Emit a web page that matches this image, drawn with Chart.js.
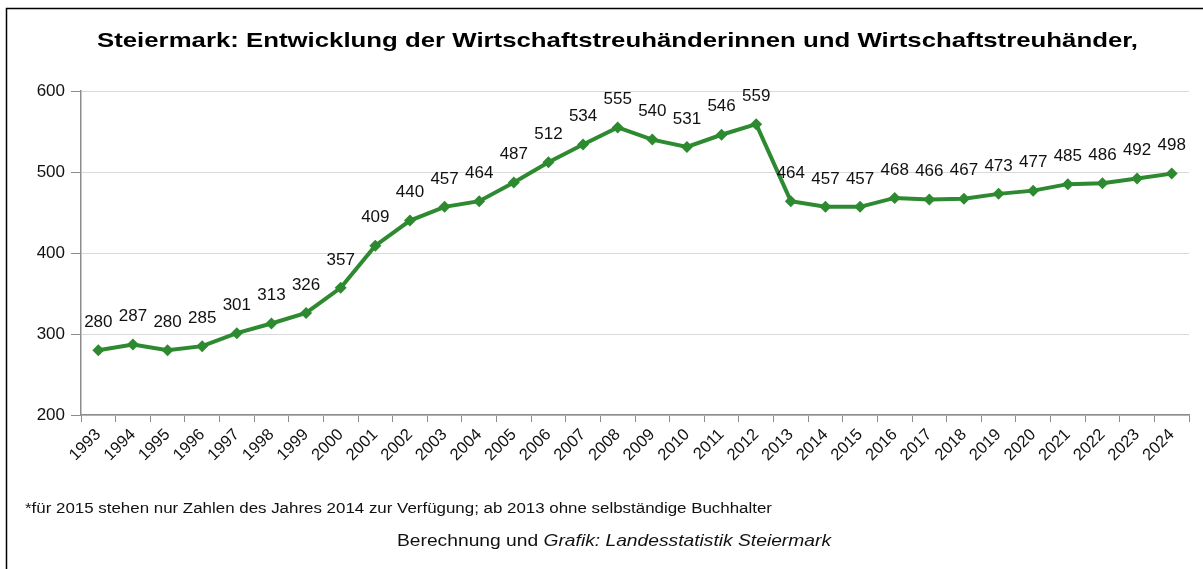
<!DOCTYPE html>
<html>
<head>
<meta charset="utf-8">
<script src="https://cdn.jsdelivr.net/npm/chart.js@4"></script>
<style>
  html, body { margin: 0; padding: 0; background: #fff; }
  canvas { display: block; }
</style>
</head>
<body>
<canvas id="myChart" width="1203" height="569"></canvas>
<script>
var jahre = ['1993', '1994', '1995', '1996', '1997', '1998', '1999', '2000', '2001', '2002',
    '2003', '2004', '2005', '2006', '2007', '2008', '2009', '2010', '2011', '2012',
    '2013', '2014', '2015', '2016', '2017', '2018', '2019', '2020', '2021', '2022',
    '2023', '2024'];
var anzahl = [280, 287, 280, 285, 301, 313, 326, 357, 409, 440,
    457, 464, 487, 512, 534, 555, 540, 531, 546, 559,
    464, 457, 457, 468, 466, 467, 473, 477, 485, 486,
    492, 498];
var yTicks = [200, 300, 400, 500, 600];

var titel = 'Steiermark: Entwicklung der Wirtschaftstreuhänderinnen und Wirtschaftstreuhänder,';
var fussnote = '*für 2015 stehen nur Zahlen des Jahres 2014 zur Verfügung; ab 2013 ohne selbständige Buchhalter';
var quelleNormal = 'Berechnung und ';
var quelleKursiv = 'Grafik: Landesstatistik Steiermark';

var schrift = '"Liberation Sans", Arial, sans-serif';

// text squeezed to a given width (narrow font look)
function schmalerText(ctx, text, x, y, breite) {
    var w = ctx.measureText(text).width;
    ctx.save();
    ctx.translate(x, y);
    ctx.scale(breite / w, 1);
    ctx.fillText(text, 0, 0);
    ctx.restore();
}

var rahmenUndTexte = {
    id: 'rahmenUndTexte',
    beforeDraw: function (chart) {
        var ctx = chart.ctx;
        ctx.save();
        ctx.fillStyle = '#fff';
        ctx.fillRect(0, 0, chart.width, chart.height);
        ctx.strokeStyle = '#000';
        ctx.lineWidth = 1.5;
        ctx.strokeRect(6.5, 8.5, 1210, 600);
        ctx.restore();
    },
    afterDraw: function (chart) {
        var ctx = chart.ctx;
        ctx.save();
        ctx.fillStyle = '#000';
        ctx.textBaseline = 'alphabetic';
        ctx.font = 'bold 21px ' + schrift;
        schmalerText(ctx, titel, 97, 47, 1041);

        ctx.fillStyle = '#111';
        ctx.font = '15.5px ' + schrift;
        schmalerText(ctx, fussnote, 25, 513, 747);

        ctx.font = '16.5px ' + schrift;
        var w1 = ctx.measureText(quelleNormal).width;
        ctx.font = 'italic 16.5px ' + schrift;
        var w2 = ctx.measureText(quelleKursiv).width;
        var f = 434 / (w1 + w2);
        ctx.save();
        ctx.translate(397, 546);
        ctx.scale(f, 1);
        ctx.font = '16.5px ' + schrift;
        ctx.fillText(quelleNormal, 0, 0);
        ctx.font = 'italic 16.5px ' + schrift;
        ctx.fillText(quelleKursiv, w1, 0);
        ctx.restore();
        ctx.restore();
    }
};

// value labels above each point
var wertLabels = {
    id: 'wertLabels',
    afterDatasetsDraw: function (chart) {
        var ctx = chart.ctx;
        var meta = chart.getDatasetMeta(0);
        ctx.save();
        ctx.fillStyle = '#111';
        ctx.font = '17px ' + schrift;
        ctx.textAlign = 'center';
        ctx.textBaseline = 'middle';
        meta.data.forEach(function (pt, i) {
            ctx.fillText(String(anzahl[i]), pt.x, pt.y - 28);
        });
        ctx.restore();
    }
};

var ctx = document.getElementById('myChart').getContext('2d');
var myChart = new Chart(ctx, {
    type: 'line',
    data: {
        labels: jahre,
        datasets: [{
            data: anzahl,
            borderColor: '#2e8a30',
            backgroundColor: '#2e8a30',
            borderWidth: 4,
            pointStyle: 'rectRot',
            pointRadius: 6,
            pointBorderWidth: 0,
            tension: 0
        }]
    },
    options: {
        responsive: false,
        animation: false,
        layout: { padding: { left: 0, right: 14, top: 91, bottom: 0 } },
        plugins: {
            legend: { display: false },
            title: { display: false },
            tooltip: { enabled: false }
        },
        scales: {
            x: {
                offset: true,
                grid: {
                    display: true,
                    offset: true,
                    drawOnChartArea: false,
                    tickLength: 7,
                    color: '#8c8c8c'
                },
                border: { color: '#8c8c8c', width: 1.5 },
                ticks: {
                    color: '#111',
                    font: { family: schrift, size: 16.5 },
                    maxRotation: 45,
                    minRotation: 45,
                    autoSkip: false,
                    padding: 3
                },
                afterFit: function (scale) { scale.height = 154; }
            },
            y: {
                min: 200,
                max: 600,
                afterBuildTicks: function (scale) {
                    scale.ticks = yTicks.map(function (v) { return { value: v }; });
                },
                grid: {
                    color: '#d9d9d9',
                    tickColor: '#8c8c8c',
                    tickLength: 10
                },
                border: { color: '#8c8c8c', width: 1.5 },
                ticks: {
                    color: '#111',
                    font: { family: schrift, size: 17 },
                    padding: 6
                },
                afterFit: function (scale) { scale.width = 81; }
            }
        }
    },
    plugins: [rahmenUndTexte, wertLabels]
});
</script>
</body>
</html>
